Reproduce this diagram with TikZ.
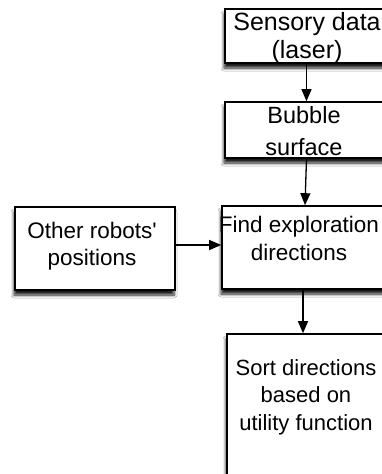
\documentclass[tikz,border=0pt]{standalone}
\usepackage{fontspec}
\setmainfont{Liberation Sans}
\usetikzlibrary{arrows.meta,shadows.blur}
\begin{document}
\begin{tikzpicture}[x=1pt,y=-1pt,
  box/.style={draw=black, line width=1.6pt, fill=white, rectangle, inner sep=0pt,
    blur shadow={shadow xshift=-1pt, shadow yshift=-5pt, shadow blur steps=6, shadow blur radius=3pt, shadow opacity=90}},
  lbl/.style={align=center, inner sep=0pt, anchor=base},
  conn/.style={draw=black, line width=1.3pt, -{Triangle[length=12pt,width=10pt]}}
]
\clip (0,0) rectangle (382,474);
\fill[white] (0,0) rectangle (382,474);

\node[box, minimum width=163pt, minimum height=54pt] (sens) at (306.5,36) {};
\node[box, minimum width=163pt, minimum height=56pt] (bub) at (306.5,130) {};
\node[box, minimum width=166pt, minimum height=83pt] (find) at (305,247.5) {};
\node[box, minimum width=160pt, minimum height=83pt] (other) at (95,248.5) {};
\node[box, minimum width=161pt, minimum height=146pt] (sort) at (307.5,407) {};

\node[lbl, font=\fontsize{25}{28}\selectfont] (t1) at (307,58) {Sensory data\\(laser)};
\node[lbl, font=\fontsize{23.5}{32}\selectfont] (t2) at (304,155) {Bubble\\surface};
\node[lbl, font=\fontsize{22.5}{28}\selectfont] (t3) at (299,260) {Find exploration\\directions};
\node[lbl, font=\fontsize{22.5}{27}\selectfont] (t4) at (92,265) {Other robots\textquotesingle\\positions};
\node[lbl, font=\fontsize{22}{27.5}\selectfont] (t5) at (306,430) {Sort directions\\based on\\utility function};

\draw[conn] (sens.south) -- (bub.north);
\draw[conn] (bub.south) -- (find.north);
\draw[conn] ([xshift=-2pt]find.south) -- ([xshift=-2pt]find.south |- sort.north);
\draw[conn] ([yshift=3.5pt]other.east) -- ([yshift=3.5pt]other.east -| find.west);
\end{tikzpicture}
\end{document}
